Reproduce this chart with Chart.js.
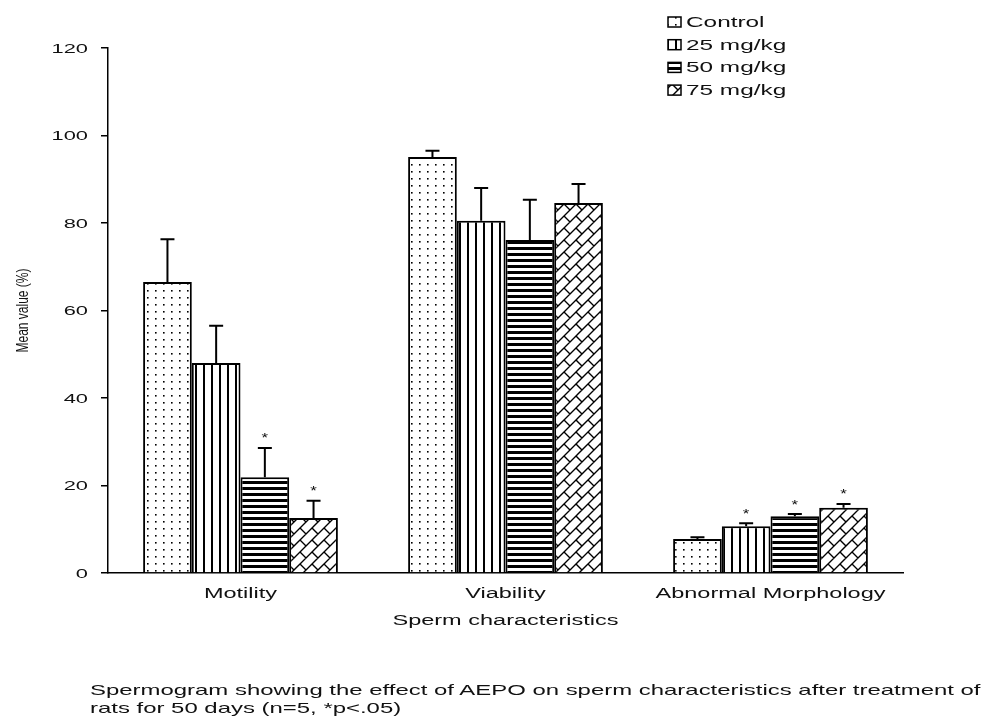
<!DOCTYPE html>
<html>
<head>
<meta charset="utf-8">
<script src="https://cdn.jsdelivr.net/npm/chart.js@4/dist/chart.umd.min.js"></script>
<style>
  html, body { margin: 0; padding: 0; background: #fff; }
  #wrap { position: relative; width: 984px; height: 716px; overflow: hidden; }
  #chart { position: absolute; left: 0; top: 0; }
  #caption {
    position: absolute; left: 90px; top: 681px; width: 560px;
    font-family: "Liberation Sans", Arial, sans-serif; font-size: 14.5px;
    line-height: 18px; color: #111; white-space: nowrap;
    transform: scaleX(1.65); transform-origin: 0 0;
  }
</style>
</head>
<body>
<div id="wrap">
  <canvas id="chart" width="984" height="716"></canvas>
  <div id="caption">Spermogram showing the effect of AEPO on sperm characteristics after treatment of<br>rats for 50 days (n=5, *p&lt;.05)</div>
</div>
<script>
// Sperm characteristics by treatment group
const categories = ['Motility', 'Viability', 'Abnormal Morphology'];
const groupLabels = ['Control', '25 mg/kg', '50 mg/kg', '75 mg/kg'];

const controlMean = [66.5, 95.1, 7.8];
const controlErr  = [9.8, 1.4, 0.4];
const dose25Mean  = [48.0, 80.5, 10.7];
const dose25Err   = [8.5, 7.5, 0.7];
const dose50Mean  = [21.9, 76.1, 13.0];
const dose50Err   = [6.7, 9.2, 0.5];
const dose75Mean  = [12.6, 84.6, 14.9];
const dose75Err   = [3.9, 4.3, 0.9];

// significance markers (*p<.05)
const controlSig = [false, false, false];
const dose25Sig  = [false, false, true];
const dose50Sig  = [true, false, true];
const dose75Sig  = [true, false, true];

const yTicks = [0, 20, 40, 60, 80, 100, 120];
const xTitle = 'Sperm characteristics';
const yTitle = 'Mean value (%)';

const FONT = '"Liberation Sans", Arial, sans-serif';
const STRETCH = 1.68;   // wide lettering used throughout the figure

// ---- fill patterns ----
function makeTile(w, h, draw) {
  const c = document.createElement('canvas');
  c.width = w; c.height = h;
  const g = c.getContext('2d');
  g.fillStyle = '#fff';
  g.fillRect(0, 0, w, h);
  g.fillStyle = '#000';
  g.strokeStyle = '#000';
  draw(g);
  return c;
}
const ctxMain = document.getElementById('chart').getContext('2d');

const dotsTile = makeTile(8, 7, g => {
  g.fillRect(3, 3, 1.6, 1.6);
});
const vlinesTile = makeTile(8, 8, g => {
  g.fillRect(3, 0, 2, 8);
});
const hlinesTile = makeTile(8, 6, g => {
  g.fillRect(0, 1, 8, 3);
});
// basket weave: long "/" lines with staggered short "\" links
const W = 24, S = 12;
const brickTile = makeTile(W, W, g => {
  g.lineWidth = 1.4;
  g.beginPath();
  for (let c = -2 * W; c <= 3 * W; c += S) {
    g.moveTo(c + 4, -4 - 0); g.lineTo(c + 4 - (W + 8), W + 4);
  }
  for (let a = -2 * W; a <= 3 * W; a += S) {
    const parity = ((a / S) % 2 + 2) % 2;
    for (let d = -3 * W; d <= 3 * W; d += W) {
      const dd = d + parity * S;
      g.moveTo((a + dd) / 2, (a - dd) / 2);
      g.lineTo((a + S + dd) / 2, (a + S - dd) / 2);
    }
  }
  g.stroke();
});

const fills = [dotsTile, vlinesTile, hlinesTile, brickTile].map(t => ctxMain.createPattern(t, 'repeat'));

const means = [controlMean, dose25Mean, dose50Mean, dose75Mean];
const errs = [controlErr, dose25Err, dose50Err, dose75Err];
const sigs = [controlSig, dose25Sig, dose50Sig, dose75Sig];

const datasets = groupLabels.map((lab, i) => ({
  label: lab,
  data: means[i],
  errUp: errs[i],
  sig: sigs[i],
  backgroundColor: fills[i],
  borderColor: '#000',
  borderWidth: 2,
  borderSkipped: 'bottom',
  categoryPercentage: 0.735,
  barPercentage: 1.0
}));

function wideText(ctx, text, x, y, size, align, sx, rotate) {
  ctx.save();
  ctx.translate(x, y);
  ctx.scale(sx, 1);
  if (rotate) ctx.rotate(-Math.PI / 2);
  ctx.font = size + 'px ' + FONT;
  ctx.fillStyle = '#111';
  ctx.textAlign = align;
  ctx.textBaseline = 'middle';
  ctx.fillText(text, 0, 0);
  ctx.restore();
}

// upper error bars and asterisks
const errorBarPlugin = {
  id: 'errorBars',
  afterDatasetsDraw(chart) {
    const ctx = chart.ctx;
    const y = chart.scales.y;
    ctx.save();
    chart.data.datasets.forEach((ds, di) => {
      const meta = chart.getDatasetMeta(di);
      meta.data.forEach((bar, i) => {
        const top = y.getPixelForValue(ds.data[i] + ds.errUp[i]);
        const base = bar.y;
        ctx.strokeStyle = '#000';
        ctx.lineWidth = 2;
        ctx.beginPath();
        ctx.moveTo(bar.x, base);
        ctx.lineTo(bar.x, top);
        ctx.moveTo(bar.x - 7, top);
        ctx.lineTo(bar.x + 7, top);
        ctx.stroke();
        if (ds.sig[i]) wideText(ctx, '*', bar.x, top - 9, 13, 'center', 1.3);
      });
    });
    ctx.restore();
  }
};

// axis lettering drawn from the scales' own tick positions
const axisTextPlugin = {
  id: 'axisText',
  afterDraw(chart) {
    const ctx = chart.ctx;
    const xs = chart.scales.x, ys = chart.scales.y;
    const area = chart.chartArea;
    categories.forEach((c, i) => {
      wideText(ctx, c, xs.getPixelForTick(i), area.bottom + 21, 14, 'center', STRETCH);
    });
    wideText(ctx, xTitle, (area.left + area.right) / 2, area.bottom + 48, 14, 'center', STRETCH);
    yTicks.forEach(v => {
      wideText(ctx, String(v), area.left - 20, ys.getPixelForValue(v) + 1, 13, 'right', STRETCH);
    });
    wideText(ctx, yTitle, 24, (area.top + area.bottom) / 2, 12, 'center', 1.3, true);
  }
};

// legend block in the upper right
const legendPlugin = {
  id: 'sideLegend',
  afterDraw(chart) {
    const ctx = chart.ctx;
    ctx.save();
    const x0 = 668, y0 = 22, step = 22.7;
    chart.data.datasets.forEach((ds, i) => {
      const cy = y0 + i * step;
      ctx.fillStyle = ds.backgroundColor;
      ctx.fillRect(x0, cy - 5, 13, 10);
      ctx.strokeStyle = '#000';
      ctx.lineWidth = 1.5;
      ctx.strokeRect(x0, cy - 5, 13, 10);
      wideText(ctx, ds.label, x0 + 18, cy + 1, 14.5, 'left', STRETCH);
    });
    ctx.restore();
  }
};

new Chart(ctxMain, {
  type: 'bar',
  data: { labels: categories, datasets },
  plugins: [errorBarPlugin, axisTextPlugin, legendPlugin],
  options: {
    responsive: false,
    animation: false,
    layout: { padding: { top: 48, right: 81, left: 0, bottom: 0 } },
    plugins: {
      legend: { display: false },
      tooltip: { enabled: false }
    },
    scales: {
      x: {
        grid: { display: false, drawTicks: false },
        border: { display: true, color: '#000', width: 1.5 },
        ticks: { display: false },
        afterFit(scale) { scale.height = 143; }
      },
      y: {
        min: 0, max: 120,
        afterBuildTicks(scale) { scale.ticks = yTicks.map(v => ({ value: v })); },
        grid: { display: true, drawOnChartArea: false, drawTicks: true, tickLength: 7, color: '#000', lineWidth: 1.5 },
        border: { display: true, color: '#000', width: 1.5 },
        ticks: { display: false },
        afterFit(scale) { scale.width = 108; }
      }
    }
  }
});
</script>
</body>
</html>
